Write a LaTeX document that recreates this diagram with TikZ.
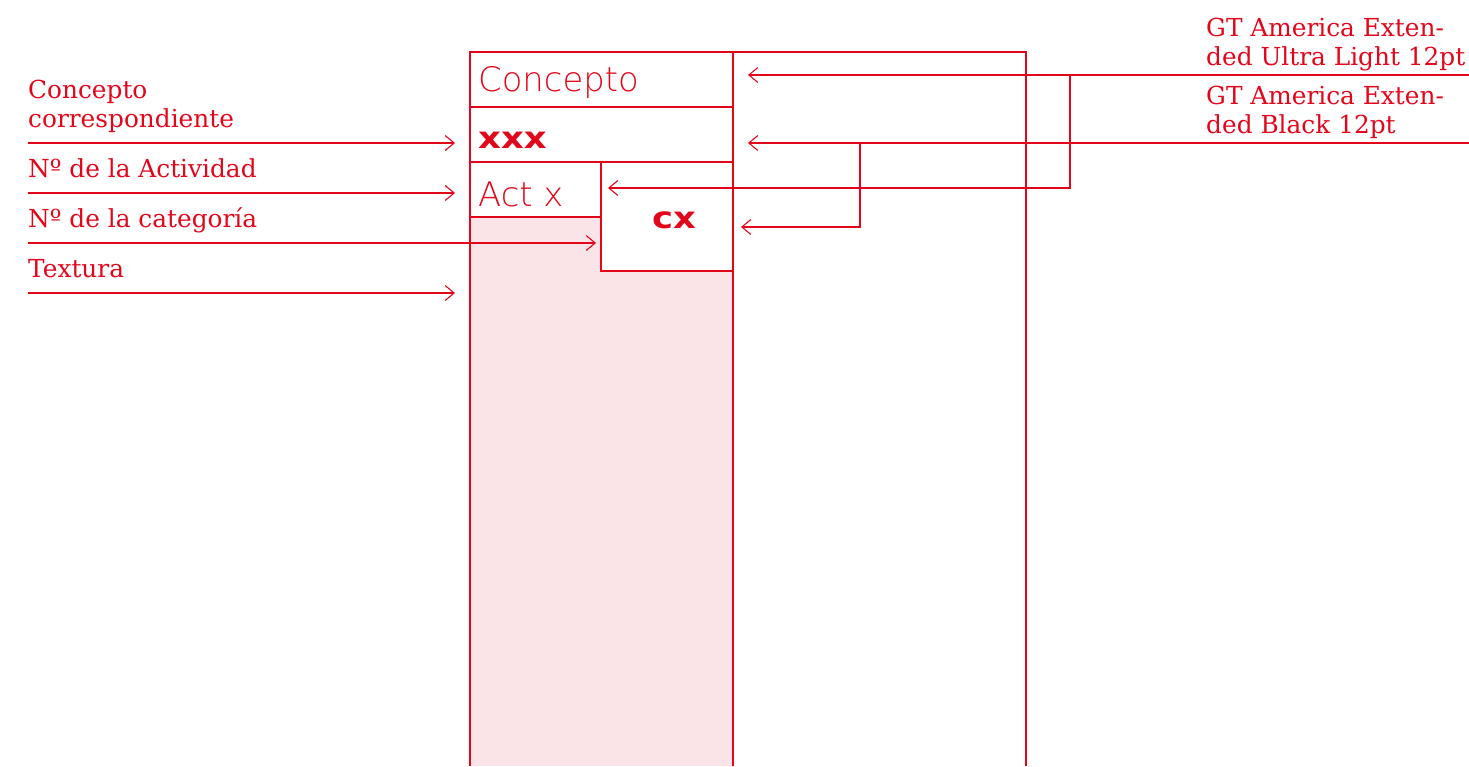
\documentclass[tikz,border=0pt]{standalone}
\usepackage{fontspec}
\usetikzlibrary{arrows.meta}
\setmainfont{DejaVu Serif}
\newfontfamily\thinfont{DejaVu Sans ExtraLight}
\newfontfamily\blackfont[FakeStretch=1.18]{DejaVu Sans Bold}
\definecolor{rojo}{HTML}{E2061B}
\definecolor{rosa}{HTML}{FBE4E7}
\tikzset{
  ln/.style={draw=rojo, line width=1.1pt},
  box/.style={ln, fill=white, rectangle, inner sep=0pt, outer sep=0pt, anchor=north west},
  arr/.style={ln, -{Straight Barb[length=9pt,width=15pt,line width=1.1pt]}},
  lbl/.style={text=rojo, font=\fontsize{24.8}{29}\selectfont, inner sep=0pt, anchor=base west},
  thin/.style={text=rojo, font=\thinfont\fontsize{33.8}{36}\selectfont, inner sep=0pt, anchor=base west},
  heavy/.style={text=rojo, font=\blackfont\fontsize{30}{32}\selectfont, inner sep=0pt, anchor=base west},
}
\begin{document}
\begin{tikzpicture}[x=1pt,y=-1pt]
\useasboundingbox (0,0) rectangle (1469,766);
% texture column
\fill[rosa] (470,217) rectangle (733,766);
\coordinate (colbl) at (470,766);
\coordinate (colbr) at (733,766);
\coordinate (coltl) at (470,52);
\coordinate (coltr) at (733,52);
\draw[ln] (coltl) -- (colbl);
\draw[ln] (coltr) -- (colbr);
% outer frame
\coordinate (otr) at (1026,52);
\coordinate (obr) at (1026,766);
\draw[ln] (coltr) -- (otr) -- (obr);
% boxes
\node[box, minimum width=263pt, minimum height=55pt] (cbox) at (470,52) {};
\node[box, minimum width=263pt, minimum height=55pt] (xbox) at (470,107) {};
\node[box, minimum width=131pt, minimum height=55pt] (abox) at (470,162) {};
\node[box, minimum width=132pt, minimum height=109pt] (cxbox) at (601,162) {};
% box texts
\node[thin] (tconcepto) at (478,91) {Concepto};
\node[heavy] (txxx) at (478,148) {xxx};
\node[thin] (tact) at (478,206) {Act x};
\node[heavy] (tcx) at (652,228) {cx};
% left labels
\node[lbl] (l1a) at (28,98) {Concepto};
\node[lbl] (l1b) at (28,127) {correspondiente};
\node[lbl] (l2) at (28,177) {Nº de la Actividad};
\node[lbl] (l3) at (28,227) {Nº de la categoría};
\node[lbl] (l4) at (28,277) {Textura};
% left arrows
\coordinate (a1s) at (28,143); \coordinate (a1e) at (455,143);
\coordinate (a2s) at (28,193); \coordinate (a2e) at (455,193);
\coordinate (a3s) at (28,243); \coordinate (a3e) at (596,243);
\coordinate (a4s) at (28,293); \coordinate (a4e) at (455,293);
\draw[arr] (a1s) -- (a1e);
\draw[arr] (a2s) -- (a2e);
\draw[arr] (a3s) -- (a3e);
\draw[arr] (a4s) -- (a4e);
% right labels
\node[lbl] (r1a) at (1206,36) {GT America Exten-};
\node[lbl] (r1b) at (1206,65) {ded Ultra Light 12pt};
\node[lbl] (r2a) at (1206,104) {GT America Exten-};
\node[lbl] (r2b) at (1206,133) {ded Black 12pt};
% right connectors
\coordinate (b1s) at (1469,75); \coordinate (b1e) at (748,75);
\coordinate (b1j) at (1070,75); \coordinate (b1f) at (608,188);
\coordinate (b2s) at (1469,143); \coordinate (b2e) at (748,143);
\coordinate (b2j) at (860,143); \coordinate (b2f) at (741,227);
\draw[arr] (b1s) -- (b1e);
\draw[arr] (b1j) |- (b1f);
\draw[arr] (b2s) -- (b2e);
\draw[arr] (b2j) |- (b2f);
\end{tikzpicture}
\end{document}
